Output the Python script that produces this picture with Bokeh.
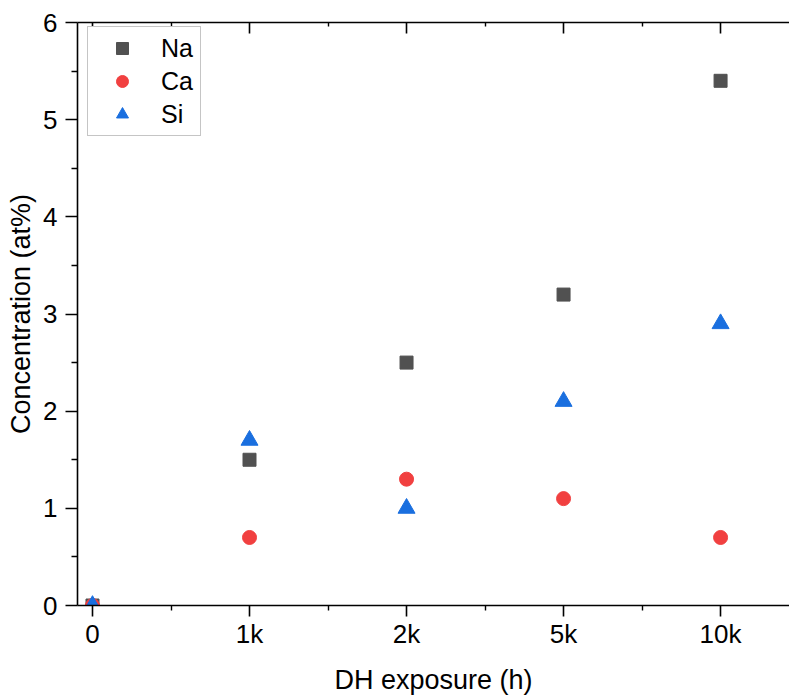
from bokeh.plotting import figure
from bokeh.models import (Range1d, FixedTicker, LinearAxis, Legend, LegendItem,
                          ColumnDataSource)
from bokeh.embed import file_html
from bokeh.resources import INLINE

# ---- data ----
categories = ["0", "1k", "2k", "5k", "10k"]
positions = [0, 1, 2, 3, 4]
na_values = [0.0, 1.5, 2.5, 3.2, 5.4]
ca_values = [0.0, 0.7, 1.3, 1.1, 0.7]
si_values = [0.0, 1.7, 1.0, 2.1, 2.9]
y_ticks = [0, 1, 2, 3, 4, 5, 6]

FONT = "Liberation Sans"
NA_COLOR = "#515151"
CA_COLOR = "#F14040"
SI_COLOR = "#1A6FDF"

p = figure(width=789, height=697, output_backend="svg", toolbar_location=None,
           x_range=Range1d(-0.0955, 4.439), y_range=Range1d(0, 6),
           min_border_left=77, min_border_top=22, min_border_right=0,
           min_border_bottom=92)
p.outline_line_color = None
p.xgrid.visible = False
p.ygrid.visible = False
p.background_fill_color = "white"
p.border_fill_color = "white"

src = ColumnDataSource(dict(x=positions, na=na_values, ca=ca_values, si=si_values))

r_na = p.scatter("x", "na", source=src, marker="square", size=13,
                 fill_color=NA_COLOR, line_color=NA_COLOR)
r_ca = p.scatter("x", "ca", source=src, marker="circle", size=14,
                 fill_color=CA_COLOR, line_color=CA_COLOR)
r_si = p.scatter("x", "si", source=src, marker="triangle", size=17,
                 fill_color=SI_COLOR, line_color=SI_COLOR)

x_minor = [v + 0.5 for v in positions]
y_minor = [v + 0.5 for v in y_ticks[:-1]]


def style_axis(ax):
    ax.axis_line_width = 1.6
    ax.axis_line_color = "black"
    ax.major_tick_line_width = 1.6
    ax.minor_tick_line_width = 1.4
    ax.major_tick_line_color = "black"
    ax.minor_tick_line_color = "black"
    ax.major_label_text_font = FONT
    ax.major_label_text_font_size = "26px"
    ax.major_label_text_color = "black"
    ax.axis_label_text_font = FONT
    ax.axis_label_text_font_size = "27px"
    ax.axis_label_text_font_style = "normal"
    ax.axis_label_text_color = "black"


xa = p.xaxis[0]
style_axis(xa)
xa.ticker = FixedTicker(ticks=positions, minor_ticks=x_minor)
xa.major_label_overrides = {pos: lab for pos, lab in zip(positions, categories)}
xa.major_tick_in = 0
xa.major_tick_out = 11
xa.minor_tick_in = 0
xa.minor_tick_out = 5
xa.major_label_standoff = 2
xa.axis_label = "DH exposure (h)"
xa.axis_label_standoff = 13

ya = p.yaxis[0]
style_axis(ya)
ya.ticker = FixedTicker(ticks=y_ticks, minor_ticks=y_minor)
ya.major_tick_in = 0
ya.major_tick_out = 12
ya.minor_tick_in = 0
ya.minor_tick_out = 6
ya.major_label_standoff = 8
ya.axis_label = "Concentration (at%)"
ya.axis_label_standoff = 4

top = LinearAxis(ticker=FixedTicker(ticks=positions, minor_ticks=x_minor))
style_axis(top)
top.major_tick_in = 11
top.major_tick_out = 0
top.minor_tick_in = 4
top.minor_tick_out = 0
top.major_label_text_font_size = "0px"
top.major_label_standoff = 0
top.major_label_text_alpha = 0
p.add_layout(top, "above")

legend = Legend(items=[LegendItem(label="Na", renderers=[r_na]),
                       LegendItem(label="Ca", renderers=[r_ca]),
                       LegendItem(label="Si", renderers=[r_si])],
                location=(10, 469))
legend.label_text_font = FONT
legend.label_text_font_size = "25px"
legend.label_text_color = "black"
legend.border_line_color = "#8c8c8c"
legend.border_line_width = 1.2
legend.background_fill_color = "white"
legend.background_fill_alpha = 1.0
legend.padding = 6
legend.spacing = 3
legend.glyph_width = 56
legend.glyph_height = 30
legend.label_height = 30
legend.label_width = 33
legend.label_standoff = 11
legend.margin = 0
p.add_layout(legend, "center")

open("out.html", "w").write(file_html(p, INLINE))
